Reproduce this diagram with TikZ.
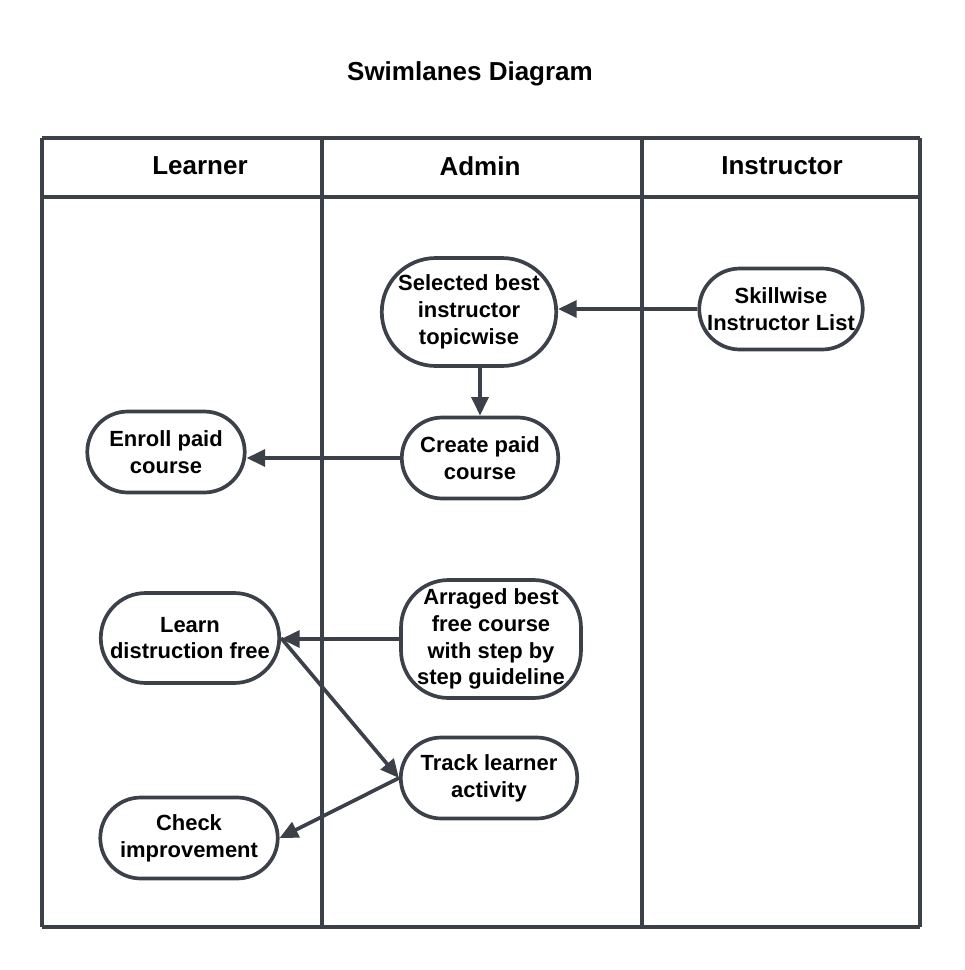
\documentclass[tikz,border=0pt]{standalone}
\usepackage{fontspec}
\setmainfont{Liberation Sans}
\usepackage{tikz}
\usetikzlibrary{arrows.meta}
\usetikzlibrary{shapes.misc}
\usetikzlibrary{positioning}

\definecolor{lanegray}{RGB}{59,64,73}

\tikzset{
  lane/.style={draw=lanegray, line width=2.1pt},
  activity/.style={rounded rectangle, draw=lanegray, line width=2.1pt, fill=white,
    align=center, font=\fontsize{12.5}{15.3}\selectfont\bfseries, inner sep=1pt},
  tallactivity/.style={rectangle, rounded corners=0.95cm, draw=lanegray, line width=2.1pt, fill=white,
    align=center, font=\fontsize{12.5}{15.3}\selectfont\bfseries, inner sep=1pt},
  flow/.style={draw=lanegray, line width=2.1pt, -{Triangle[length=10.5pt,width=9.5pt]}},
  lanehead/.style={font=\fontsize{14.8}{17}\selectfont\bfseries}
}

\begin{document}
\begin{tikzpicture}[x=0.02cm, y=-0.02cm]
    \useasboundingbox (0,0) rectangle (964,970);

    % title and lane headers
    \node[lanehead] (title) at (470,74) {Swimlanes Diagram};
    \node[lanehead] (hlearner) at (200,166) {Learner};
    \node[lanehead] (hadmin) at (480,166) {Admin};
    \node[lanehead] (hinstr) at (782,166) {Instructor};

    % lanes
    \draw[lane] (42,138) -- (920,138);
    \draw[lane] (42,197) -- (920,197);
    \draw[lane] (42,927) -- (920,927);
    \draw[lane] (42,138) -- (42,927);
    \draw[lane] (322,138) -- (322,927);
    \draw[lane] (642,138) -- (642,927);
    \draw[lane] (920,138) -- (920,927);

    % activities
    \node[activity, minimum width=3.56cm, minimum height=2.16cm] (sel) at (469,312) {Selected best\\instructor\\topicwise};
    \node[activity, minimum width=3.24cm, minimum height=1.62cm] (skill) at (781,309) {Skillwise\\Instructor List};
    \node[activity, minimum width=3.2cm, minimum height=1.62cm] (create) at (480,458) {Create paid\\course};
    \node[activity, minimum width=3.22cm, minimum height=1.62cm] (enroll) at (166,452) {Enroll paid\\course};
    \node[activity, minimum width=3.64cm, minimum height=1.8cm] (learn) at (190,638) {Learn\\distruction free};
    \node[tallactivity, minimum width=3.6cm, minimum height=2.36cm] (arr) at (491,639) {Arraged best\\free course\\with step by\\step guideline};
    \node[activity, minimum width=3.6cm, minimum height=1.62cm] (track) at (489,778) {Track learner\\activity};
    \node[activity, minimum width=3.62cm, minimum height=1.62cm] (check) at (189,838) {Check\\improvement};

    % flows
    \draw[flow] (skill.west) -- (sel.east |- skill.west);
    \draw[flow] (create.north |- sel.south) -- (create.north);
    \draw[flow] (create.west) -- (enroll.east |- create.west);
    \draw[flow] (arr.west) -- (learn.east |- arr.west);
    \draw[flow] (learn.east) -- (track.west);
    \draw[flow] (track.west) -- (check.east);
\end{tikzpicture}
\end{document}
